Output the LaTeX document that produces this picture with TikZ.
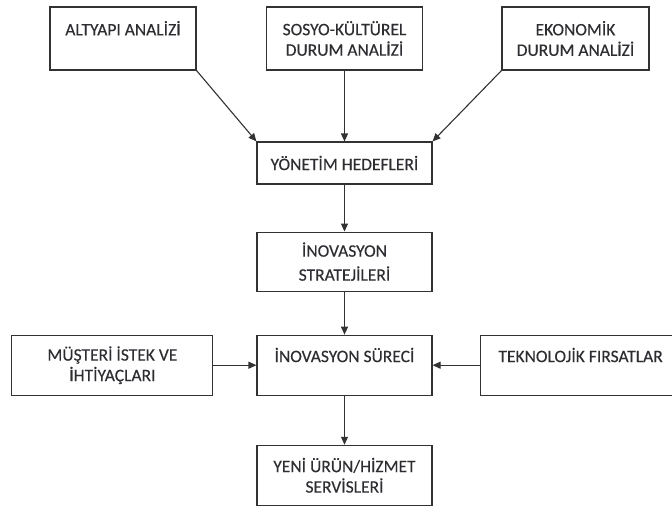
\documentclass[tikz,border=0pt]{standalone}
\usepackage{fontspec}
\setmainfont{Carlito}[UprightFeatures={FakeBold=0.3}]
\usepackage{tikz}
\usetikzlibrary{arrows.meta,positioning}
\definecolor{cizgi}{RGB}{50,50,50}
\definecolor{yazi}{RGB}{45,45,50}
\tikzset{
    %Define standard arrow tip
    >={Triangle[length=8pt,width=7pt]},
    %Define style for boxes
    kutu/.style={
           rectangle,
           draw=cizgi, line width=1.1pt,
           inner sep=0pt,
           font=\fontsize{17.5}{20.5}\selectfont,
           text=yazi,
           align=center},
    ustkutu/.style={
           kutu,
           minimum height=63pt},
    ortakutu/.style={
           kutu,
           minimum width=175pt},
    yankutu/.style={
           kutu,
           minimum width=201pt,
           minimum height=60pt},
    % Define arrow style
    ok/.style={
           ->,
           draw=cizgi,
           line width=1.1pt}
}
\begin{document}
\begin{tikzpicture}[x=1pt,y=-1pt,node distance=47pt,every edge/.style={ok,draw}]
\useasboundingbox (0,0) rectangle (672,506);
 %nodes
\node[ustkutu, minimum width=146pt] (altyapi) at (123,38.5) {ALTYAPI ANALİZİ\\\mbox{}};
\node[ustkutu, minimum width=156pt] (sosyo) at (344.5,38.5) {SOSYO-KÜLTÜREL\\DURUM ANALİZİ};
\node[ustkutu, minimum width=147pt] (ekonomik) at (575.5,38.5) {EKONOMİK\\DURUM ANALİZİ};
\node[ortakutu, minimum height=42pt] (yonetim) at (344.5,163) {YÖNETİM HEDEFLERİ};
\node[ortakutu, minimum height=59pt, below=of yonetim, font=\fontsize{17.5}{24}\selectfont] (strateji) {İNOVASYON\\STRATEJİLERİ};
\node[ortakutu, minimum height=60pt, below=43pt of strateji] (surec) {İNOVASYON SÜRECİ\\\mbox{}};
\node[ortakutu, minimum height=60pt, below=49pt of surec] (yeni) {YENİ ÜRÜN/HİZMET\\SERVİSLERİ};
\node[yankutu, left=43pt of surec] (musteri) {MÜŞTERİ İSTEK VE\\İHTİYAÇLARI};
\node[yankutu, right=47pt of surec] (teknoloji) {TEKNOLOJİK FIRSATLAR\\\mbox{}};
 %arrows
\path
   (altyapi.south east) edge (yonetim.north west)
   (sosyo) edge (yonetim)
   (ekonomik.south west) edge (yonetim.north east)
   (yonetim) edge (strateji)
   (strateji) edge (surec)
   (surec) edge (yeni)
   (musteri) edge (surec)
   (teknoloji) edge (surec);
\end{tikzpicture}
\end{document}
